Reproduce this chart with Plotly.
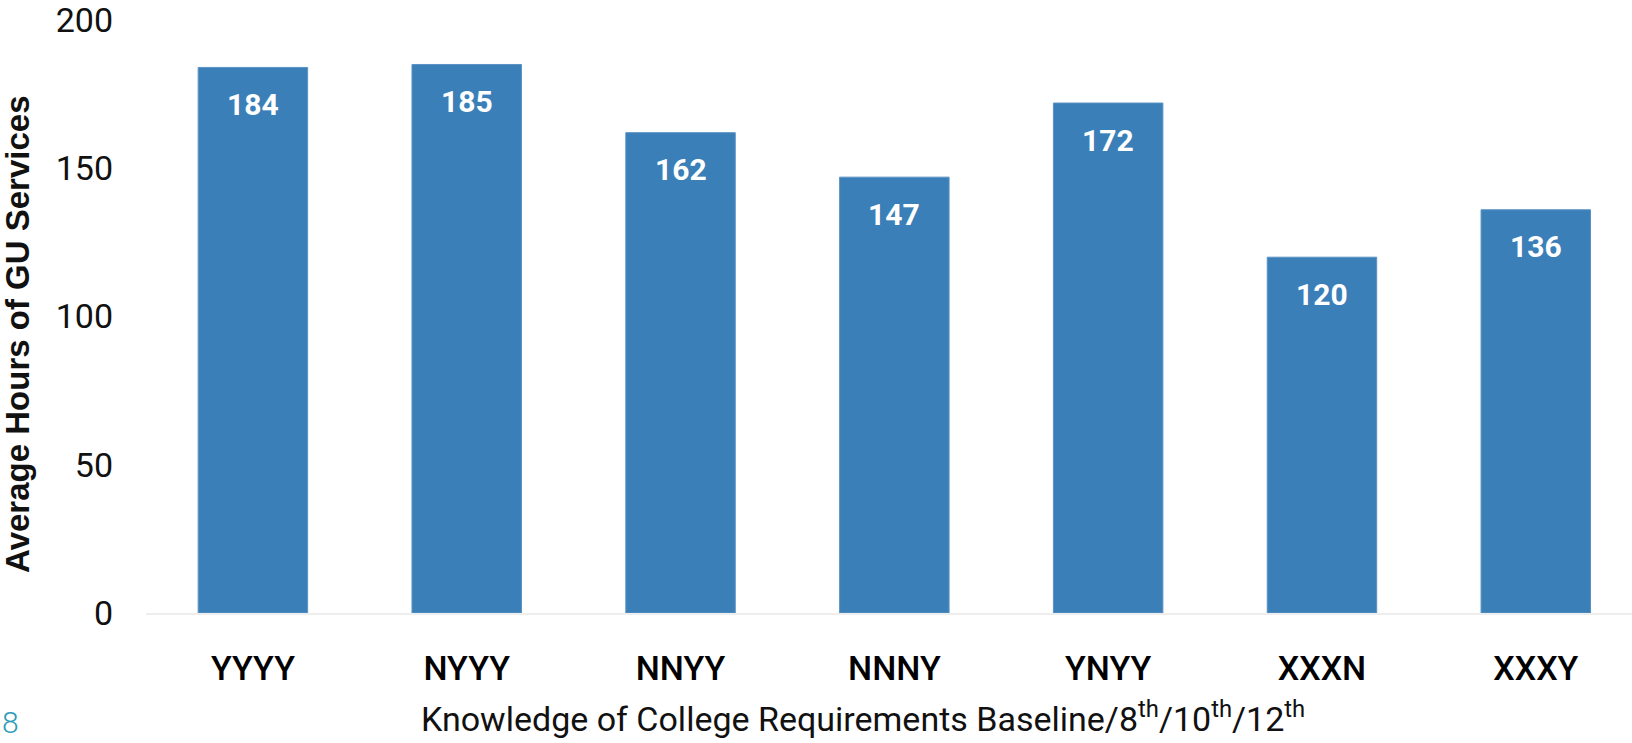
import plotly.graph_objects as go

# Baseline/8th/10th/12th knowledge pattern and average GU service hours
categories = ["YYYY", "NYYY", "NNYY", "NNNY", "YNYY", "XXXN", "XXXY"]
avg_hours = [184, 185, 162, 147, 172, 120, 136]
y_ticks = [0, 50, 100, 150, 200]

bar_color = "#3B7FB8"
font_main = "Roboto, 'DejaVu Sans', sans-serif"

fig = go.Figure(
    go.Bar(
        x=categories,
        y=avg_hours,
        width=0.512,
        marker=dict(color=bar_color, line=dict(color="#5A93C4", width=1)),
        hoverinfo="x+y",
    )
)

# value labels inside the top of each bar
for cat, val in zip(categories, avg_hours):
    fig.add_annotation(
        x=cat, y=val, text=str(val), showarrow=False,
        yanchor="middle", yshift=-37,
        font=dict(family=font_main, size=30, color="white", weight="bold"),
    )

# axis titles
fig.add_annotation(
    xref="paper", yref="paper", x=0.4825, y=-0.176,
    text="Knowledge of College Requirements Baseline/8<sup>th</sup>/10<sup>th</sup>/12<sup>th</sup>",
    showarrow=False, xanchor="center", yanchor="middle",
    font=dict(family=font_main, size=34, color="#111111"),
)
fig.add_annotation(
    xref="paper", yref="paper", x=-0.0861, y=0.469,
    text="Average Hours of GU Services", textangle=-90,
    showarrow=False, xanchor="center", yanchor="middle",
    font=dict(family="'Liberation Sans', Arial, sans-serif", size=33, color="#111111", weight="bold"),
)
# page number
fig.add_annotation(
    xref="paper", yref="paper", x=-0.0982, y=-0.184,
    text="8", showarrow=False, xanchor="left", yanchor="middle",
    font=dict(family=font_main, size=30, color="#2E9BB8", weight=300),
)

fig.update_layout(
    width=1632, height=743,
    margin=dict(l=146, r=0, t=20, b=130),
    paper_bgcolor="white", plot_bgcolor="white",
    showlegend=False,
    xaxis=dict(
        range=[-0.5, 6.45],
        showgrid=False, zeroline=False,
        showline=True, linecolor="#EEEEEE", linewidth=2,
        ticks="", ticklabelstandoff=24,
        tickfont=dict(family=font_main, size=34, color="#000000", weight=500),
    ),
    yaxis=dict(
        range=[0, 200], tickvals=y_ticks,
        showgrid=False, zeroline=False, showline=False,
        ticks="", ticklabelstandoff=32, ticklabeloverflow="allow",
        tickfont=dict(family=font_main, size=34, color="#111111"),
    ),
)

fig.write_html("out.html")
